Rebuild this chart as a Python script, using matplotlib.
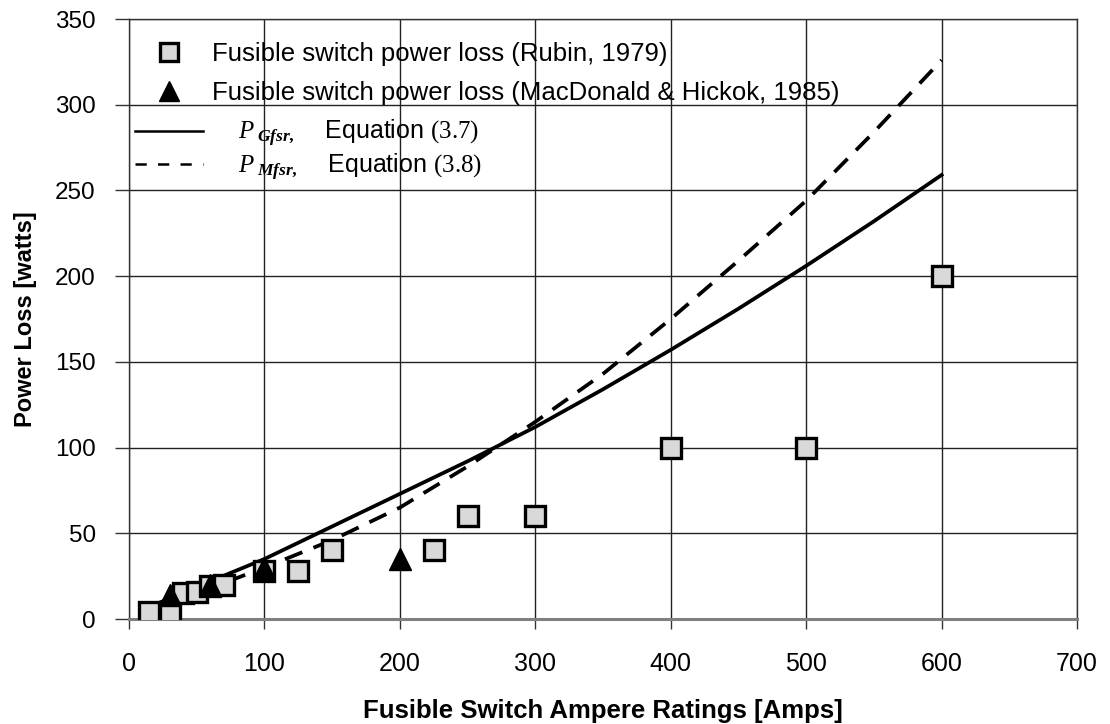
import matplotlib
matplotlib.use("Agg")
import matplotlib.pyplot as plt
from matplotlib.lines import Line2D

# ---- data ----
rubin_amps = [15, 30, 40, 50, 60, 70, 100, 125, 150, 225, 250, 300, 400, 500, 600]
rubin_loss = [4, 4, 15, 16, 19, 20, 28, 28, 40, 40, 60, 60, 100, 100, 200]

macd_amps = [30, 60, 100, 200]
macd_loss = [14, 20, 30, 35]

eq_amps_g = [15, 30, 60, 100, 150, 200, 250, 300, 350, 400, 450, 500, 550, 600]
eq_loss_g = [7, 12, 22, 35, 54, 73, 92, 112, 134, 157, 181, 206, 232, 259]

eq_amps_m = [30, 60, 100, 150, 200, 250, 300, 350, 400, 450, 500, 550, 600]
eq_loss_m = [10, 18, 30, 46, 65, 89, 115, 143, 175, 209, 244, 284, 326]

x_ticks = [0, 100, 200, 300, 400, 500, 600, 700]
y_ticks = [0, 50, 100, 150, 200, 250, 300, 350]

label_rubin = "Fusible switch power loss (Rubin, 1979)"
label_macd = "Fusible switch power loss (MacDonald & Hickok, 1985)"
label_g = r"    $P\,{}_{\mathbfit{Gfsr,}}$    Equation $\mathrm{(3.7)}$"
label_m = r"    $P\,{}_{\mathbfit{Mfsr,}}$    Equation $\mathrm{(3.8)}$"
x_label = "Fusible Switch Ampere Ratings [Amps]"
y_label = "Power Loss [watts]"

# ---- style ----
plt.rcParams["font.family"] = ["Liberation Sans", "DejaVu Sans"]
plt.rcParams["mathtext.fontset"] = "custom"
plt.rcParams["mathtext.rm"] = "Liberation Serif"
plt.rcParams["mathtext.it"] = "Liberation Serif:italic"
plt.rcParams["mathtext.bf"] = "Liberation Serif:bold"
plt.rcParams["mathtext.bfit"] = "Liberation Serif:italic:bold"

fig = plt.figure(figsize=(11.1, 7.24), dpi=100)
ax = fig.add_axes([129 / 1110, 1 - 619 / 724, 948 / 1110, 600 / 724])

ln_g, = ax.plot(eq_amps_g, eq_loss_g, color="black", lw=2.7, zorder=3)
ln_m, = ax.plot(eq_amps_m, eq_loss_m, color="black", lw=2.7, zorder=3)
ln_m.set_dashes([5, 3.2])

sq, = ax.plot(rubin_amps, rubin_loss, ls="none", marker="s", markersize=14,
              markerfacecolor="#d9d9d9", markeredgecolor="black", markeredgewidth=2.4,
              zorder=4)
tri, = ax.plot(macd_amps, macd_loss, ls="none", marker="^", markersize=16,
               markerfacecolor="black", markeredgecolor="black", markeredgewidth=1,
               zorder=5)

ax.set_xlim(0, 700)
ax.set_ylim(0, 350)
ax.set_xticks(x_ticks)
ax.set_yticks(y_ticks)
ax.grid(True, color="#222222", lw=1.0, zorder=0)
ax.set_axisbelow(True)
for s in ["left", "top", "right"]:
    ax.spines[s].set_color("#333333")
    ax.spines[s].set_linewidth(1.0)
ax.spines["bottom"].set_color("#808080")
ax.spines["bottom"].set_linewidth(2.2)

ax.tick_params(axis="x", length=7, width=1, color="#333333", pad=17, labelsize=18)
ax.tick_params(axis="y", length=10, width=1, color="#333333", pad=14, labelsize=17.5)

ax.set_xlabel(x_label, fontsize=18.5, fontweight="bold", labelpad=16)
ax.set_ylabel(y_label, fontsize=17, fontweight="bold", labelpad=13)

leg1 = ax.legend([sq, tri], [label_rubin, label_macd], loc="upper left",
                 bbox_to_anchor=(0.006, 0.962), frameon=False, fontsize=18.5,
                 handlelength=2.7, handletextpad=0.3, labelspacing=0.6,
                 borderaxespad=0, borderpad=0, markerscale=0.9)
ax.add_artist(leg1)
h_g = Line2D([], [], color="black", lw=1.8)
h_m = Line2D([], [], color="black", lw=1.8, dashes=[4.5, 4.5])
leg2 = ax.legend([h_g, h_m], [label_g, label_m], loc="upper left",
                 bbox_to_anchor=(0.006, 0.835), frameon=False, fontsize=18,
                 handlelength=2.75, handletextpad=0.3, labelspacing=0.1,
                 borderaxespad=0, borderpad=0)

fig.savefig("out.png", dpi=100)
